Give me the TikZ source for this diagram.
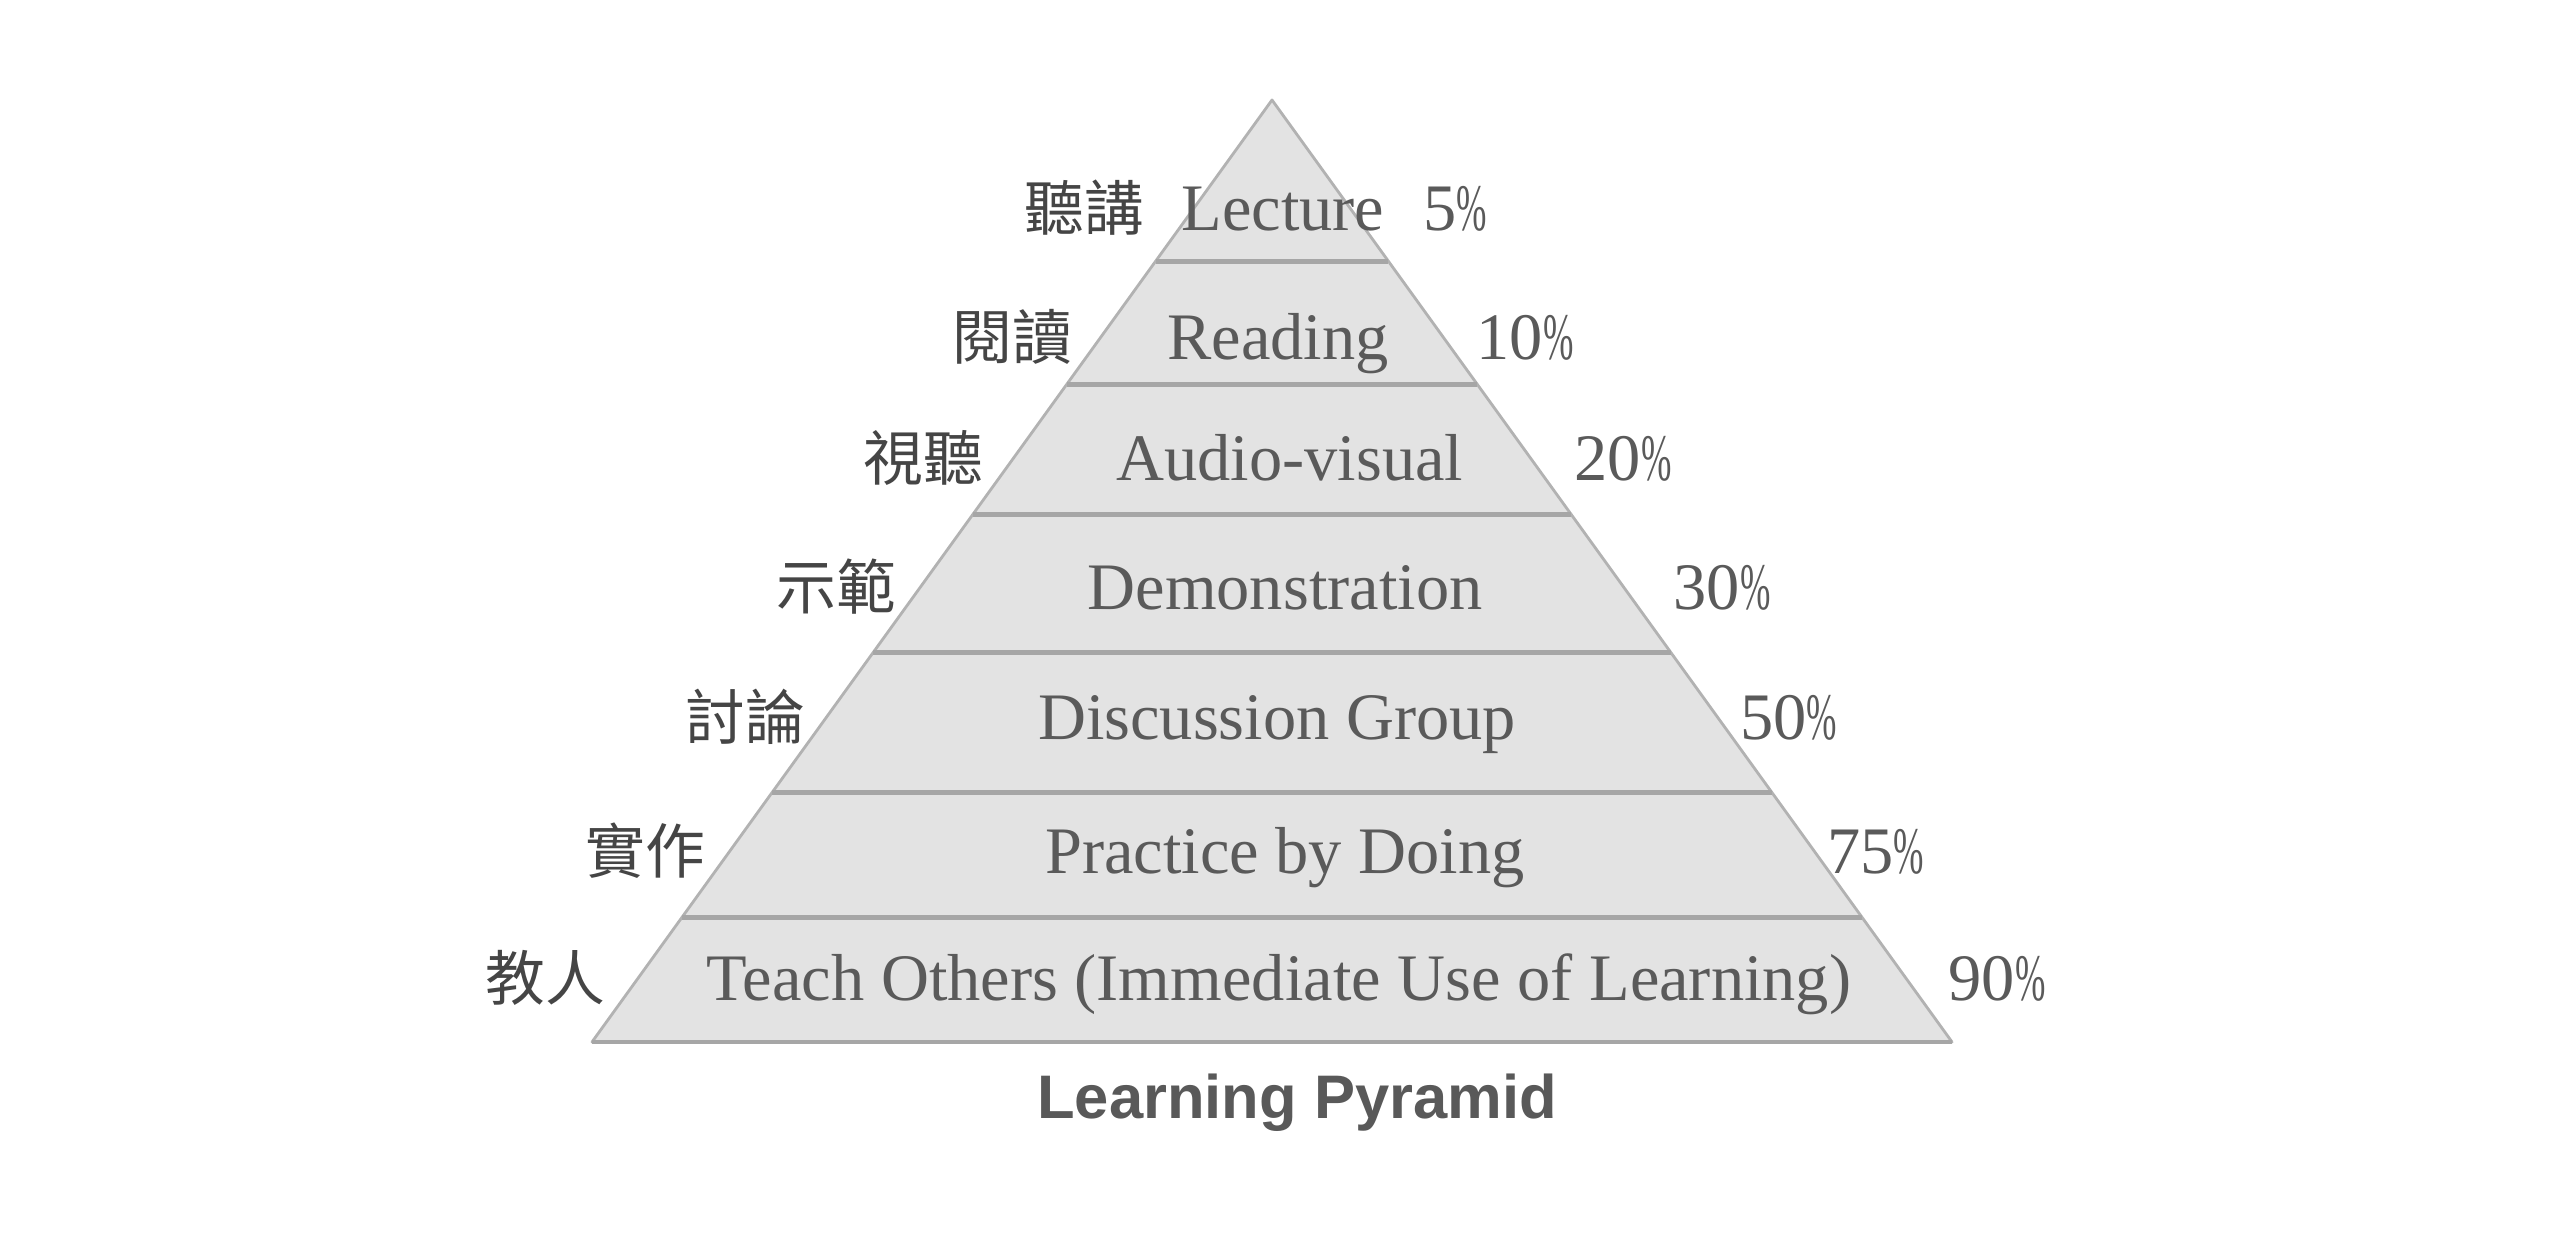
\documentclass[tikz,border=0pt]{standalone}
\usepackage{fontspec}
\setmainfont{Liberation Serif}
\newfontfamily\cjkfont{Noto Sans CJK TC}
\newfontfamily\headfont{Liberation Sans}
\usepackage{graphicx}
\usepackage{xcolor}
\usetikzlibrary{calc}
\definecolor{pyrfill}{HTML}{E3E3E3}
\definecolor{pyredge}{HTML}{B2B2B2}
\definecolor{pyrline}{HTML}{A6A6A6}
\definecolor{engray}{HTML}{5A5A5A}
\definecolor{cngray}{HTML}{454545}
\definecolor{titlegray}{HTML}{595959}
\newcommand{\narrowpct}{\scalebox{0.55}[1]{\%}}
\tikzset{
  pyramid/.style={fill=pyrfill, draw=pyredge, line width=0.8pt, line join=round},
  divider/.style={draw=pyrline, line width=1.4pt},
  entext/.style={anchor=base, inner sep=0pt, text=engray,
                 font=\fontsize{18.9}{20}\selectfont},
  cntext/.style={anchor=base, inner sep=0pt, text=cngray,
                 font=\cjkfont\fontsize{17}{18}\selectfont},
  caption/.style={anchor=base, inner sep=0pt, text=titlegray,
                  font=\headfont\bfseries\fontsize{17.5}{19}\selectfont},
}

\begin{document}
\begin{tikzpicture}
  \useasboundingbox (0,0) rectangle (25.6,12.36);
  \coordinate (apex) at (12.72,11.36);
  \coordinate (bl) at (5.92,1.94);
  \coordinate (br) at (19.52,1.94);
  \draw[pyramid] (apex) -- (bl) -- (br) -- cycle;

  % layer borders
  \draw[divider] ($(apex)!0.171!(bl)$) -- ($(apex)!0.171!(br)$);
  \draw[divider] ($(apex)!0.302!(bl)$) -- ($(apex)!0.302!(br)$);
  \draw[divider] ($(apex)!0.440!(bl)$) -- ($(apex)!0.440!(br)$);
  \draw[divider] ($(apex)!0.587!(bl)$) -- ($(apex)!0.587!(br)$);
  \draw[divider] ($(apex)!0.735!(bl)$) -- ($(apex)!0.735!(br)$);
  \draw[divider] ($(apex)!0.868!(bl)$) -- ($(apex)!0.868!(br)$);
  \draw[divider] (bl) -- (br);

  % rows
  \node[cntext] (lecturecn) at (10.84,10.05) {聽講};
  \node[entext] (lecture) at (12.83,10.05) {Lecture};
  \node[entext] (lecturepct) at (14.55,10.05) {5\narrowpct};

  \node[cntext] (readingcn) at (10.12,8.76) {閱讀};
  \node[entext] (reading) at (12.78,8.76) {Reading};
  \node[entext] (readingpct) at (15.25,8.76) {10\narrowpct};

  \node[cntext] (avcn) at (9.235,7.55) {視聽};
  \node[entext] (av) at (12.9,7.55) {Audio-visual};
  \node[entext] (avpct) at (16.23,7.55) {20\narrowpct};

  \node[cntext] (democn) at (8.36,6.26) {示範};
  \node[entext] (demo) at (12.85,6.26) {Demonstration};
  \node[entext] (demopct) at (17.22,6.26) {30\narrowpct};

  \node[cntext] (discusscn) at (7.455,4.96) {討論};
  \node[entext] (discuss) at (12.77,4.96) {Discussion Group};
  \node[entext] (discusspct) at (17.885,4.96) {50\narrowpct};

  \node[cntext] (practicecn) at (6.45,3.62) {實作};
  \node[entext] (practice) at (12.85,3.62) {Practice by Doing};
  \node[entext] (practicepct) at (18.755,3.62) {75\narrowpct};

  \node[cntext] (teachcn) at (5.455,2.35) {教人};
  \node[entext] (teach) at (12.79,2.35) {Teach Others (Immediate Use of Learning)};
  \node[entext] (teachpct) at (19.97,2.35) {90\narrowpct};

  \node[caption] (title) at (12.97,1.17) {Learning Pyramid};
\end{tikzpicture}
\end{document}
